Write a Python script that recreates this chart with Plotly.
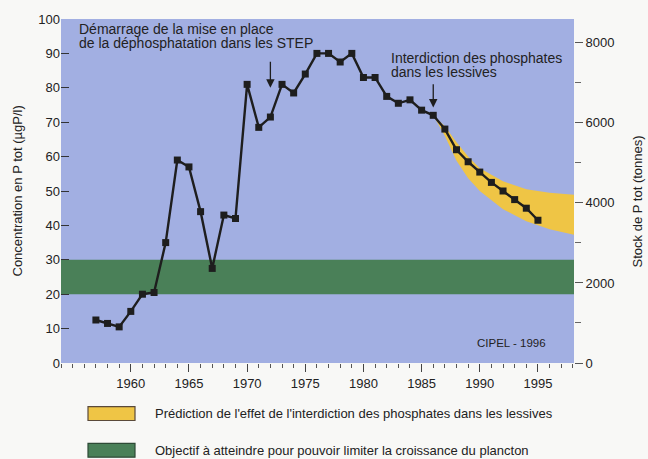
import plotly.graph_objects as go

# ---- data ----
years = list(range(1957, 1996))
concentration = [12.5, 11.5, 10.5, 15.0, 20.0, 20.5, 35.0, 59.0, 57.0, 44.0,
                 27.5, 43.0, 42.0, 81.0, 68.5, 71.5, 81.0, 78.5, 84.0, 90.0,
                 90.0, 87.5, 90.0, 83.0, 83.0, 77.5, 75.5, 76.5, 73.5, 72.0,
                 68.0, 62.0, 58.5, 55.5, 52.5, 50.0, 47.5, 45.0, 41.5]

band_years = [1986, 1987, 1988, 1989, 1990, 1992, 1994, 1996, 1998.1]
band_upper = [72.0, 68.8, 64.2, 60.0, 56.6, 52.8, 50.5, 49.5, 48.9]
band_lower = [72.0, 66.0, 58.8, 53.7, 50.0, 44.7, 41.2, 38.9, 37.3]

goal_range = [20, 30]

left_ticks = list(range(0, 101, 10))
right_ticks = [0, 2000, 4000, 6000, 8000]
x_ticks = [1960, 1965, 1970, 1975, 1980, 1985, 1990, 1995]

# ---- styles ----
BG = "#a2afe2"
YELLOW = "#efc545"
GREEN = "#4a8058"
DARK = "#1e1e1e"
FONT = "Liberation Sans, Arial, sans-serif"

fig = go.Figure()

# prediction band
fig.add_trace(go.Scatter(x=band_years, y=band_upper, mode="lines",
                         line=dict(width=0, color=YELLOW), hoverinfo="skip",
                         showlegend=False))
fig.add_trace(go.Scatter(x=band_years, y=band_lower, mode="lines",
                         line=dict(width=0, color=YELLOW), fill="tonexty",
                         fillcolor=YELLOW, hoverinfo="skip", showlegend=False))

# main series
fig.add_trace(go.Scatter(x=years, y=concentration, mode="lines+markers",
                         line=dict(color=DARK, width=2.4),
                         marker=dict(symbol="square", size=7, color=DARK),
                         showlegend=False))

# invisible trace for right axis
fig.add_trace(go.Scatter(x=[1960], y=[0], yaxis="y2", mode="markers",
                         marker=dict(opacity=0), hoverinfo="skip",
                         showlegend=False))

# goal band
fig.add_shape(type="rect", xref="paper", x0=0, x1=1, yref="y",
              y0=goal_range[0], y1=goal_range[1], fillcolor=GREEN,
              line=dict(width=0), layer="below")

# legend boxes (paper coordinates; plot spans 61..574 x, 16..363 y)
def px_x(p):
    return (p - 61) / 513.0

def px_y(p):
    return (363 - p) / 347.0

fig.add_shape(type="rect", xref="paper", yref="paper",
              x0=px_x(88), x1=px_x(135), y0=px_y(421), y1=px_y(407),
              fillcolor=YELLOW, line=dict(color="#5a4a3a", width=1.2))
fig.add_shape(type="rect", xref="paper", yref="paper",
              x0=px_x(88), x1=px_x(135), y0=px_y(458), y1=px_y(444),
              fillcolor=GREEN, line=dict(color="#2e4a36", width=1.2))

ann = []
ann.append(dict(xref="paper", yref="paper", x=px_x(153), y=px_y(414),
                text="Prédiction de l'effet de l'interdiction des phosphates dans les lessives",
                showarrow=False, xanchor="left", yanchor="middle",
                font=dict(size=13, color="#222", family=FONT)))
ann.append(dict(xref="paper", yref="paper", x=px_x(153), y=px_y(451),
                text="Objectif à atteindre pour pouvoir limiter la croissance du plancton",
                showarrow=False, xanchor="left", yanchor="middle",
                font=dict(size=13, color="#222", family=FONT)))

# text annotations in plot
ann.append(dict(xref="paper", yref="paper", x=px_x(77), y=px_y(26),
                text="Démarrage de la mise en place", showarrow=False,
                xanchor="left", yanchor="middle",
                font=dict(size=14, color="#222", family=FONT)))
ann.append(dict(xref="paper", yref="paper", x=px_x(77), y=px_y(40),
                text="de la déphosphatation dans les STEP", showarrow=False,
                xanchor="left", yanchor="middle",
                font=dict(size=14, color="#222", family=FONT)))
ann.append(dict(xref="paper", yref="paper", x=px_x(389), y=px_y(55),
                text="Interdiction des phosphates", showarrow=False,
                xanchor="left", yanchor="middle",
                font=dict(size=14, color="#222", family=FONT)))
ann.append(dict(xref="paper", yref="paper", x=px_x(389), y=px_y(69),
                text="dans les lessives", showarrow=False,
                xanchor="left", yanchor="middle",
                font=dict(size=14, color="#222", family=FONT)))
ann.append(dict(xref="paper", yref="paper", x=px_x(548), y=px_y(343),
                text="CIPEL - 1996", showarrow=False,
                xanchor="right", yanchor="middle",
                font=dict(size=11.5, color="#222", family=FONT)))

# arrows
ann.append(dict(x=1972, y=80.0, ax=1972, ay=88.0, xref="x", yref="y",
                axref="x", ayref="y", text="", showarrow=True,
                arrowhead=2, arrowsize=1.3, arrowwidth=1.3, arrowcolor=DARK))
ann.append(dict(x=1986, y=74.3, ax=1986, ay=81.5, xref="x", yref="y",
                axref="x", ayref="y", text="", showarrow=True,
                arrowhead=2, arrowsize=1.3, arrowwidth=1.3, arrowcolor=DARK))

# axis titles
ann.append(dict(xref="paper", yref="paper", x=px_x(17), y=px_y(190),
                text="Concentration en P tot (µgP/l)", textangle=-90,
                showarrow=False, xanchor="center", yanchor="middle",
                font=dict(size=13, color="#222", family=FONT)))
ann.append(dict(xref="paper", yref="paper", x=px_x(637), y=px_y(200),
                text="Stock de P tot (tonnes)", textangle=-90,
                showarrow=False, xanchor="center", yanchor="middle",
                font=dict(size=13, color="#222", family=FONT)))

fig.update_layout(
    width=648, height=459,
    margin=dict(l=61, r=74, t=16, b=96),
    paper_bgcolor="#f8f8f6",
    plot_bgcolor=BG,
    showlegend=False,
    font=dict(family=FONT, size=13, color="#222"),
    annotations=ann,
    xaxis=dict(range=[1954.0, 1998.1], tickvals=x_ticks, ticks="outside",
               ticklen=8, tickcolor="#444", tickwidth=1,
               minor=dict(dtick=1, tick0=1955, ticks="outside", ticklen=4,
                          tickcolor="#555", showgrid=False),
               showgrid=False, zeroline=False, showline=False,
               tickfont=dict(size=13, color="#222")),
    yaxis=dict(range=[0, 100], tickvals=left_ticks, ticks="inside",
               ticklen=8, tickcolor="#333", tickwidth=1.3,
               showgrid=False, zeroline=False, showline=False,
               tickfont=dict(size=13, color="#222")),
    yaxis2=dict(range=[0, 8594], tickvals=right_ticks, overlaying="y",
                side="right", ticks="outside", ticklen=8, tickcolor="#555",
                minor=dict(dtick=1000, ticks="outside", ticklen=6,
                           tickcolor="#666", showgrid=False),
                showgrid=False, zeroline=False, showline=False,
                tickfont=dict(size=13, color="#222")),
)

fig.write_html("out.html", config={"displayModeBar": False},
               post_script="document.body.style.margin='0';document.body.style.overflow='hidden';")
